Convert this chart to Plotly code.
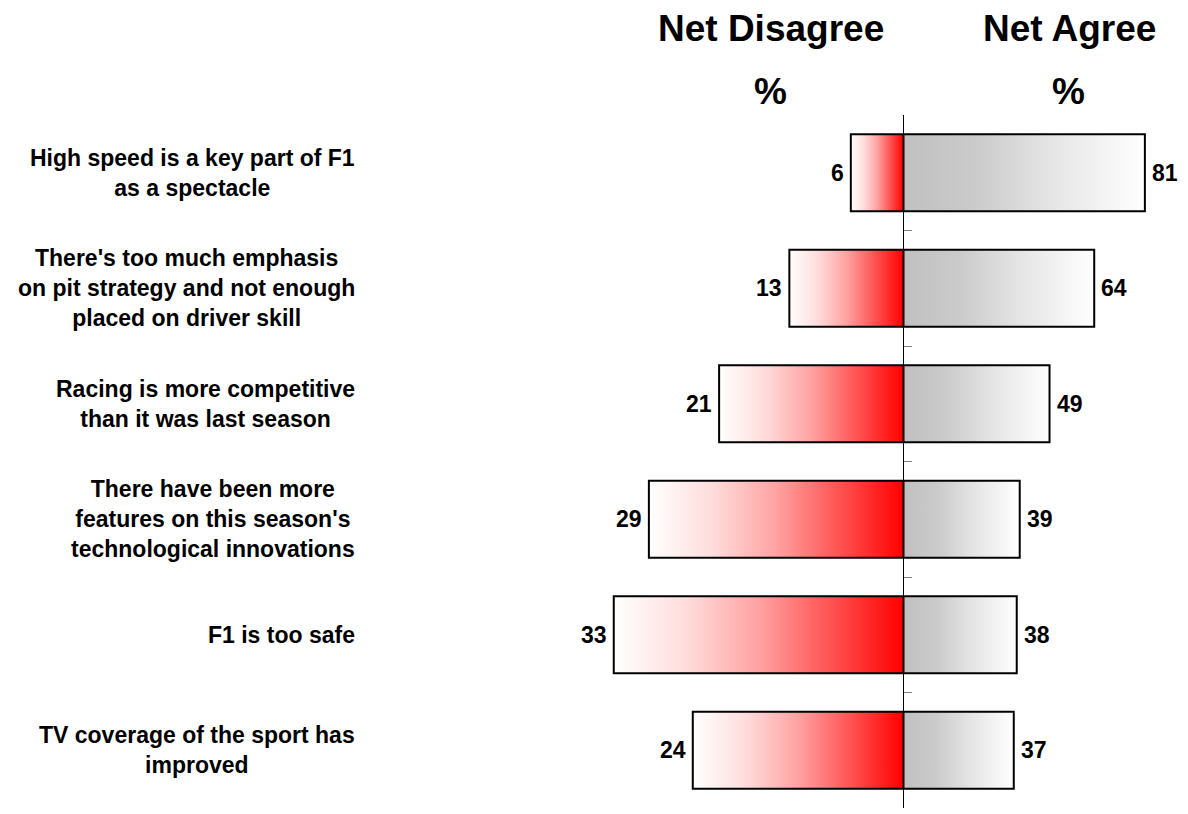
import plotly.graph_objects as go

# ---- data ----
statements = [
    "High speed is a key part of F1<br>as a spectacle",
    "There's too much emphasis<br>on pit strategy and not enough<br>placed on driver skill",
    "Racing is more competitive<br>than it was last season",
    "There have been more<br>features on this season's<br>technological innovations",
    "F1 is too safe",
    "TV coverage of the sport has<br>improved",
]
net_disagree = [6, 13, 21, 29, 33, 24]
net_agree = [81, 64, 49, 39, 38, 37]

# ---- layout constants (page pixel coords; the page body has an 8px margin) ----
OFF = 8
W, H = 1188 - OFF, 814 - OFF
FONT = "Liberation Sans, Arial, sans-serif"
center_px = 903.5
left_px0 = 560
left_ppu = 8.78     # px per % on disagree side
right_ppu = 2.98    # px per % on agree side
top_px, bot_px = 115, 808
half = 0.334


def fx(px):
    return (px - OFF) / W


def fy(px):
    return 1 - (px - OFF) / H


red_scale = [[0, "#ff0000"], [0.25, "#ff5252"], [0.5, "#ffa2a2"], [0.75, "#ffdcdc"], [1, "#ffffff"]]
grey_scale = [[0, "#c0c0c0"], [0.3, "#cbcbcb"], [0.6, "#e4e4e4"], [0.85, "#f5f5f5"], [1, "#ffffff"]]

fig = go.Figure()

for i, (d, a) in enumerate(zip(net_disagree, net_agree)):
    ys = [i - half, i - half, i + half, i + half, i - half]
    fig.add_trace(go.Scatter(
        x=[0, d, d, 0, 0], y=ys, xaxis="x", yaxis="y", mode="lines",
        fill="toself", line=dict(color="black", width=2),
        fillgradient=dict(type="horizontal", colorscale=red_scale, start=0, stop=d),
        hoverinfo="skip", showlegend=False,
    ))
    fig.add_trace(go.Scatter(
        x=[0, a, a, 0, 0], y=ys, xaxis="x2", yaxis="y", mode="lines",
        fill="toself", line=dict(color="black", width=2),
        fillgradient=dict(type="horizontal", colorscale=grey_scale, start=0, stop=a),
        hoverinfo="skip", showlegend=False,
    ))

annotations = []
num_font = dict(family=FONT, size=23, color="black", weight="bold")
for i, (d, a) in enumerate(zip(net_disagree, net_agree)):
    annotations.append(dict(xref="x", yref="y", x=d, y=i, text=str(d), showarrow=False,
                            xanchor="right", xshift=-5, font=num_font))
    annotations.append(dict(xref="x2", yref="y", x=a, y=i, text=str(a), showarrow=False,
                            xanchor="left", xshift=5, font=num_font))
    annotations.append(dict(xref="paper", yref="y", x=fx(357), y=i, text=statements[i],
                            showarrow=False, xanchor="right", align="center",
                            font=dict(family=FONT, size=23, color="black", weight="bold")))

title_font = dict(family=FONT, size=37, color="black", weight="bold")
for txt, xc, yc in [("Net Disagree", 771, 28), ("Net Agree", 1069, 28), ("%", 770, 92), ("%", 1068, 92)]:
    annotations.append(dict(xref="paper", yref="paper", x=fx(xc), y=fy(yc), text=txt,
                            showarrow=False, xanchor="center", yanchor="middle", font=title_font))

fig.update_layout(
    width=W, height=H,
    margin=dict(l=0, r=0, t=0, b=0),
    paper_bgcolor="white", plot_bgcolor="white",
    showlegend=False,
    xaxis=dict(domain=[fx(left_px0), fx(center_px)],
               range=[(center_px - left_px0) / left_ppu, 0],
               visible=False, anchor="y", fixedrange=True),
    xaxis2=dict(domain=[fx(center_px), 1.0],
                range=[0, (1188 - center_px) / right_ppu],
                visible=False, anchor="y", fixedrange=True),
    yaxis=dict(domain=[fy(bot_px), fy(top_px)],
               range=[len(statements) - 0.5, -0.5],
               anchor="x2", side="left",
               showline=True, linecolor="black", linewidth=1,
               ticks="inside", ticklen=8, tickcolor="#808080", tickwidth=1,
               tickvals=[k - 0.5 for k in range(len(statements) + 1)],
               showticklabels=False, showgrid=False, zeroline=False, fixedrange=True),
    annotations=annotations,
)

fig.write_html("out.html")
